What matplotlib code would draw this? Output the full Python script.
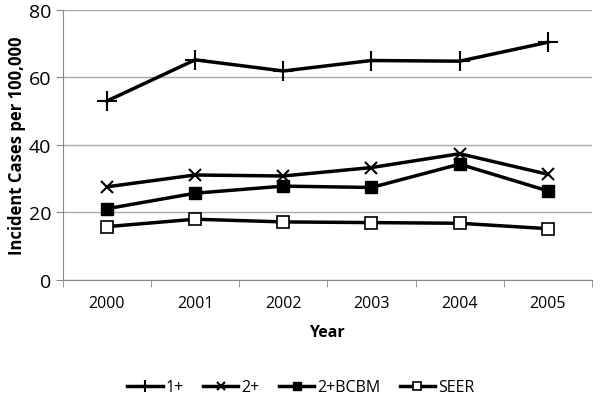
import matplotlib
matplotlib.use('Agg')
import matplotlib.pyplot as plt
import numpy as np

years = ['2000', '2001', '2002', '2003', '2004', '2005']
one_plus = [53.0, 65.2, 61.9, 65.0, 64.8, 70.4]
two_plus = [27.6, 31.1, 30.8, 33.3, 37.4, 31.3]
two_bcbm = [21.1, 25.7, 27.8, 27.4, 34.3, 26.4]
seer = [15.8, 18.0, 17.2, 17.0, 16.8, 15.2]

plt.rcParams['font.family'] = ['Open Sans', 'DejaVu Sans']

fig = plt.figure(figsize=(6.04, 4.02), dpi=100)
ax = fig.add_axes([0.104, 0.301, 0.876, 0.672])

x = np.arange(len(years))
ax.plot(x, one_plus, color='black', lw=2.5, marker='+', ms=14, mew=1.5, label='1+')
ax.plot(x, two_plus, color='black', lw=2.5, marker='x', ms=8, mew=1.5, label='2+')
ax.plot(x, two_bcbm, color='black', lw=2.5, marker='s', ms=8, mfc='black', label='2+BCBM')
ax.plot(x, seer, color='black', lw=2.5, marker='s', ms=8, mfc='white', mew=1.2, label='SEER')

ax.set_xlim(-0.5, 5.5)
ax.set_ylim(0, 80)
ax.set_yticks([0, 20, 40, 60, 80])
ax.set_xticks(x)
ax.set_xticklabels(years)
ax.set_xticks(np.arange(-0.5, 6, 1), minor=True)
ax.tick_params(axis='x', which='major', length=0, labelsize=11.5, pad=11)
ax.tick_params(axis='x', which='minor', length=5, color='#888888')
ax.tick_params(axis='y', length=5, color='#888888', labelsize=14)
ax.grid(axis='y', color='#aaaaaa', lw=1)
ax.set_axisbelow(True)
for s in ['top', 'right']:
    ax.spines[s].set_visible(False)
ax.spines['left'].set_color('#888888')
ax.spines['bottom'].set_color('#888888')

ax.set_xlabel('Year', fontsize=11.5, fontweight='bold', labelpad=9)
ax.set_ylabel('Incident Cases per 100,000', fontsize=12, fontweight='bold', labelpad=2)

ax.legend(loc='upper center', bbox_to_anchor=(0.45, -0.315), ncol=4, frameon=False,
          fontsize=11.5, handlelength=2.2, columnspacing=1.2, handletextpad=0.2,
          markerscale=0.65)

fig.savefig('out.png', dpi=100)
